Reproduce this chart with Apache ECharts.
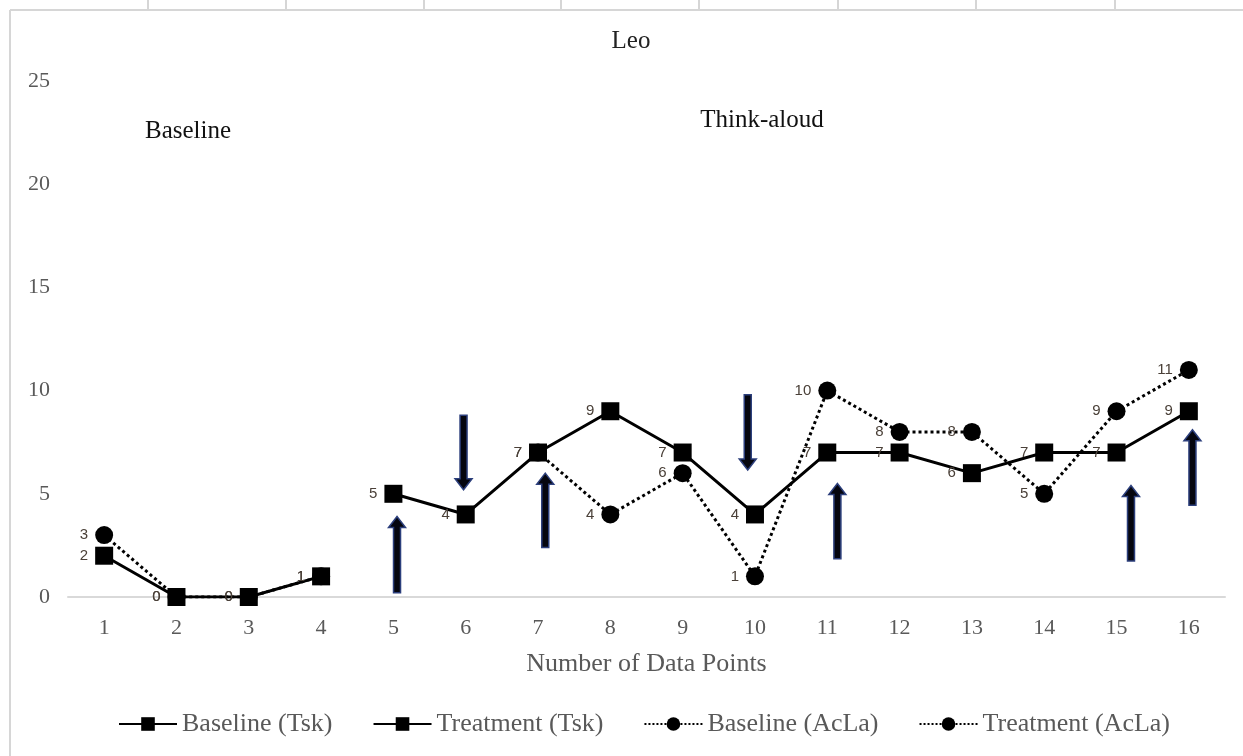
<!DOCTYPE html>
<html>
<head>
<meta charset="utf-8">
<script src="https://cdn.jsdelivr.net/npm/echarts@6/dist/echarts.min.js"></script>
<style>html,body{margin:0;padding:0;background:#fff}#c{width:1243px;height:756px}</style>
</head>
<body>
<div id="c"></div>
<script>
const categories = ['1','2','3','4','5','6','7','8','9','10','11','12','13','14','15','16'];
const baselineTsk   = [2, 0, 0, 1, null, null, null, null, null, null, null, null, null, null, null, null];
const treatmentTsk  = [null, null, null, null, 5, 4, 7, 9, 7, 4, 7, 7, 6, 7, 7, 9];
const baselineAcLa  = [3, 0, 0, 1, null, null, null, null, null, null, null, null, null, null, null, null];
const treatmentAcLa = [null, null, null, null, null, null, 7, 4, 6, 1, 10, 8, 8, 5, 9, 11];
// annotation arrows: [x position (category number), y start, y end]
const arrows = [
  [5.05, 0.2, 3.9],
  [5.97, 8.8, 5.2],
  [7.1, 2.4, 6.0],
  [9.9, 9.8, 6.15],
  [11.14, 1.85, 5.5],
  [15.2, 1.75, 5.4],
  [16.05, 4.45, 8.1]
];
const seriesNames = ['Baseline (Tsk)', 'Treatment (Tsk)', 'Baseline (AcLa)', 'Treatment (AcLa)'];

const serif = 'Liberation Serif';
const labelStyle = {show: true, position: 'left', distance: 7, fontFamily: 'Liberation Sans', fontSize: 15, color: '#4a4038'};

function lineSeries(name, data, dotted) {
  return {
    name: name, type: 'line', data: data,
    symbol: dotted ? 'circle' : 'rect', symbolSize: 18,
    z: dotted ? 2 : 3,
    itemStyle: {color: '#000'},
    lineStyle: {color: '#000', width: 3, type: dotted ? 'dotted' : 'solid'},
    label: labelStyle,
    connectNulls: false,
    animation: false
  };
}

const topTicks = [148, 286, 424, 561, 699, 838, 976, 1115];
const graphics = [
  {type: 'line', shape: {x1: 10, y1: 10, x2: 1243, y2: 10}, style: {stroke: '#d6d6d6', lineWidth: 2}},
  {type: 'line', shape: {x1: 10, y1: 10, x2: 10, y2: 756}, style: {stroke: '#d6d6d6', lineWidth: 2}},
  {type: 'text', x: 631, y: 41, style: {text: 'Leo', fontFamily: serif, fontSize: 25, fill: '#222', align: 'center', verticalAlign: 'middle'}},
  {type: 'text', x: 188, y: 131, style: {text: 'Baseline', fontFamily: serif, fontSize: 25, fill: '#111', align: 'center', verticalAlign: 'middle'}},
  {type: 'text', x: 762, y: 120, style: {text: 'Think-aloud', fontFamily: serif, fontSize: 25, fill: '#111', align: 'center', verticalAlign: 'middle'}}
];
topTicks.forEach(function (x) {
  graphics.push({type: 'line', shape: {x1: x, y1: 0, x2: x, y2: 10}, style: {stroke: '#d6d6d6', lineWidth: 2}});
});

const chart = echarts.init(document.getElementById('c'));
chart.setOption({
  animation: false,
  backgroundColor: '#fff',
  grid: {left: 68, right: 18, top: 81, bottom: 159},
  xAxis: [{
    type: 'category', data: categories, boundaryGap: true,
    name: 'Number of Data Points', nameLocation: 'middle', nameGap: 54,
    nameTextStyle: {fontFamily: serif, fontSize: 26, color: '#595959'},
    axisLine: {lineStyle: {color: '#d9d9d9', width: 2}},
    axisTick: {show: false},
    axisLabel: {fontFamily: serif, fontSize: 22, color: '#595959', margin: 20}
  }, {
    type: 'value', min: 0.5, max: 16.5, show: false
  }],
  yAxis: {
    type: 'value', min: 0, max: 25, interval: 5,
    axisLine: {show: false}, axisTick: {show: false}, splitLine: {show: false},
    axisLabel: {fontFamily: serif, fontSize: 22, color: '#595959', margin: 18}
  },
  legend: {
    data: seriesNames, top: 706, left: 113,
    itemWidth: 58, itemHeight: 17, itemGap: 40,
    textStyle: {fontFamily: serif, fontSize: 26, color: '#595959'}
  },
  graphic: graphics,
  series: [
    lineSeries(seriesNames[0], baselineTsk, false),
    lineSeries(seriesNames[1], treatmentTsk, false),
    lineSeries(seriesNames[2], baselineAcLa, true),
    lineSeries(seriesNames[3], treatmentAcLa, true),
    {
      type: 'custom', xAxisIndex: 1, yAxisIndex: 0, data: arrows, z: 5,
      encode: {x: 0, y: [1, 2]},
      renderItem: function (params, api) {
        const x = api.value(0), ya = api.value(1), yb = api.value(2);
        const p0 = api.coord([x, ya]), p1 = api.coord([x, yb]);
        const dir = p1[1] < p0[1] ? -1 : 1;
        const hw = 3.5, hh = 8.5, hl = 11;
        const cx = p0[0], tipY = p1[1], baseY = tipY - dir * hl;
        return {
          type: 'polygon',
          shape: {points: [[cx - hw, p0[1]], [cx - hw, baseY], [cx - hh, baseY], [cx, tipY], [cx + hh, baseY], [cx + hw, baseY], [cx + hw, p0[1]]]},
          style: {fill: '#05060f', stroke: '#2c3f7c', lineWidth: 1.5}
        };
      }
    }
  ]
});
</script>
</body>
</html>
